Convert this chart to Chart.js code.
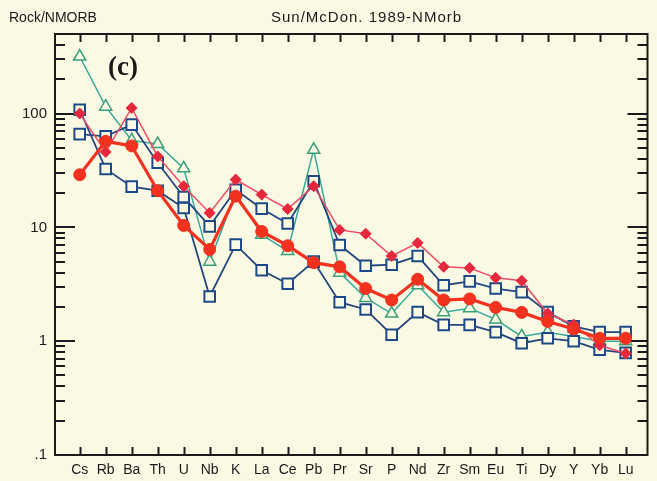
<!DOCTYPE html>
<html>
<head>
<meta charset="utf-8">
<script src="https://cdn.jsdelivr.net/npm/chart.js@4.4.0/dist/chart.umd.min.js"></script>
<style>
  html, body { margin: 0; padding: 0; background: #fafae4; }
  #wrap { width: 657px; height: 481px; }
</style>
</head>
<body>
<div id="wrap"><canvas id="spider" width="657" height="481"></canvas></div>
<script>
const elements = ['Cs', 'Rb', 'Ba', 'Th', 'U', 'Nb', 'K', 'La', 'Ce', 'Pb', 'Pr', 'Sr', 'P', 'Nd', 'Zr', 'Sm', 'Eu', 'Ti', 'Dy', 'Y', 'Yb', 'Lu'];

const circleSeries = [29, 57, 52, 21, 10.4, 6.4, 18.8, 9.2, 6.9, 4.9, 4.5, 2.9, 2.3, 3.5, 2.3, 2.35, 1.98, 1.79, 1.49, 1.28, 1.06, 1.06];
const diamondSeries = [100, 46, 112, 42, 23, 13.4, 26.3, 19.4, 14.5, 23, 9.5, 8.8, 5.6, 7.3, 4.5, 4.4, 3.6, 3.4, 1.75, 1.4, 0.92, 0.78];
const squareHigh = [66, 63, 80, 37, 18.5, 10.2, 21.4, 14.6, 10.8, 25.4, 7.0, 4.6, 4.7, 5.6, 3.1, 3.35, 2.9, 2.7, 1.8, 1.35, 1.2, 1.2];
const squareLow = [108, 32.6, 22.8, 21, 14.8, 2.47, 7.05, 4.2, 3.2, 5.0, 2.2, 1.9, 1.14, 1.8, 1.39, 1.39, 1.2, 0.96, 1.06, 1.0, 0.84, 0.79];
const triangleSeries = [317, 115, 58, 54, 33, 5.0, 20, 8.6, 6.2, 48, 4.0, 2.4, 1.75, 3.1, 1.8, 1.95, 1.55, 1.1, 1.2, 1.1, 1.0, 1.0];

const yTickValues = [0.1, 1, 10, 100];
const yTickLabels = ['.1', '1', '10', '100'];

const bg = '#fafae4';
const ink = '#1a1a1a';

function toPoints(values) {
    return values.map((v, i) => ({ x: i, y: v }));
}

// frame with inward ticks, like the old plotting program
const framePlugin = {
    id: 'frame',
    beforeDatasetsDraw(chart) {
        const ctx = chart.ctx;
        const a = chart.chartArea;
        const xs = chart.scales.x;
        const ys = chart.scales.y;
        ctx.save();
        ctx.strokeStyle = ink;
        ctx.lineWidth = 2;
        ctx.strokeRect(a.left, a.top, a.right - a.left, a.bottom - a.top);
        ctx.beginPath();
        elements.forEach((e, i) => {
            const px = Math.round(xs.getPixelForValue(i)) + 0.5;
            ctx.moveTo(px, a.bottom); ctx.lineTo(px, a.bottom - 8);
            ctx.moveTo(px, a.top); ctx.lineTo(px, a.top + 8);
        });
        for (let d = 0.1; d < 500; d *= 10) {
            for (let m = 1; m <= 9; m++) {
                const v = d * m;
                if (v > 500.001) break;
                const py = Math.round(ys.getPixelForValue(v));
                const len = m === 1 ? 20 : 10;
                ctx.moveTo(a.left, py); ctx.lineTo(a.left + len, py);
                ctx.moveTo(a.right, py); ctx.lineTo(a.right - len, py);
            }
        }
        ctx.stroke();
        ctx.restore();
    },
    afterDraw(chart) {
        const ctx = chart.ctx;
        ctx.save();
        ctx.fillStyle = ink;
        ctx.textBaseline = 'middle';
        ctx.font = '14px "Liberation Sans", Arial, sans-serif';
        ctx.fillText('Rock/NMORB', 9, 18);
        ctx.font = '15px "Liberation Sans", Arial, sans-serif';
        ctx.letterSpacing = '1px';
        ctx.fillText('Sun/McDon. 1989-NMorb', 271, 18);
        ctx.letterSpacing = '0px';
        ctx.font = 'bold 27px "Liberation Serif", "Times New Roman", serif';
        ctx.fillText('(c)', 108, 68);
        ctx.restore();
    }
};

const labelFont = { family: '"Liberation Sans Narrow", "Liberation Sans", Arial, sans-serif', size: 14 };

new Chart(document.getElementById('spider').getContext('2d'), {
    type: 'line',
    data: {
        datasets: [
            {
                label: 'circles',
                data: toPoints(circleSeries),
                borderColor: '#f2311f',
                borderWidth: 3.2,
                pointStyle: 'circle',
                pointRadius: 6,
                pointBackgroundColor: '#f2311f',
                pointBorderColor: '#f2311f',
                pointBorderWidth: 1
            },
            {
                label: 'diamonds',
                data: toPoints(diamondSeries),
                borderColor: '#ef4a66',
                borderWidth: 1.5,
                pointStyle: 'rectRot',
                pointRadius: 5.5,
                pointBackgroundColor: '#e5283c',
                pointBorderColor: '#e5283c',
                pointBorderWidth: 1
            },
            {
                label: 'squares high',
                data: toPoints(squareHigh),
                borderColor: '#24467e',
                borderWidth: 1.8,
                pointStyle: 'rect',
                pointRadius: 7.5,
                pointBackgroundColor: bg,
                pointBorderColor: '#1d4a86',
                pointBorderWidth: 2
            },
            {
                label: 'squares low',
                data: toPoints(squareLow),
                borderColor: '#24467e',
                borderWidth: 1.8,
                pointStyle: 'rect',
                pointRadius: 7.5,
                pointBackgroundColor: bg,
                pointBorderColor: '#1d4a86',
                pointBorderWidth: 2
            },
            {
                label: 'triangles',
                data: toPoints(triangleSeries),
                borderColor: '#3aa89a',
                borderWidth: 1.5,
                pointStyle: 'triangle',
                pointRadius: 7,
                pointBackgroundColor: bg,
                pointBorderColor: '#3a9e78',
                pointBorderWidth: 1.5
            }
        ]
    },
    options: {
        responsive: false,
        animation: false,
        devicePixelRatio: 1,
        layout: { padding: { top: 34, right: 5, left: 0, bottom: 0 } },
        elements: { line: { tension: 0 } },
        plugins: {
            legend: { display: false },
            tooltip: { enabled: false }
        },
        scales: {
            x: {
                type: 'linear',
                min: -0.95,
                max: 21.84,
                afterBuildTicks: s => { s.ticks = elements.map((e, i) => ({ value: i })); },
                afterFit: s => { s.height = 26; },
                grid: { display: false, drawTicks: false },
                border: { display: false },
                ticks: {
                    autoSkip: false,
                    maxRotation: 0,
                    padding: 7,
                    color: ink,
                    font: labelFont,
                    callback: value => elements[value]
                }
            },
            y: {
                type: 'logarithmic',
                min: 0.1,
                max: 500,
                afterBuildTicks: s => { s.ticks = yTickValues.map(v => ({ value: v })); },
                afterFit: s => { s.width = 55; },
                grid: { display: false, drawTicks: false },
                border: { display: false },
                ticks: {
                    padding: 8,
                    color: ink,
                    font: { family: '"Liberation Sans", Arial, sans-serif', size: 15 },
                    callback: value => yTickLabels[yTickValues.indexOf(value)]
                }
            }
        }
    },
    plugins: [framePlugin]
});
</script>
</body>
</html>
